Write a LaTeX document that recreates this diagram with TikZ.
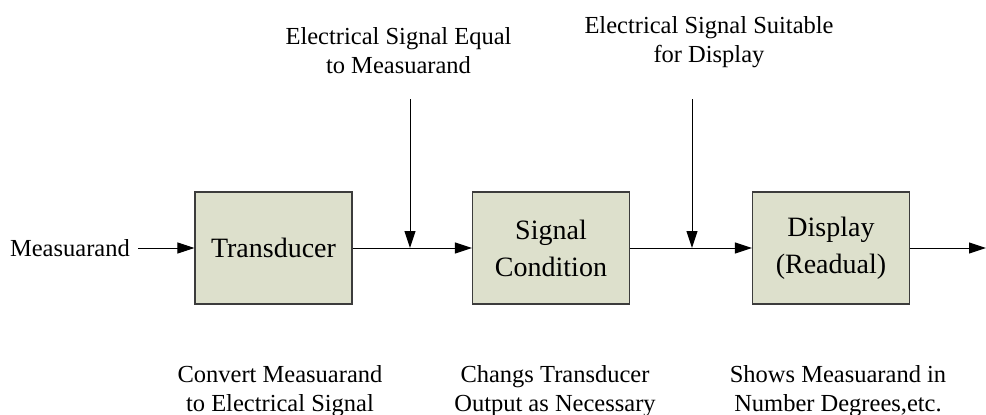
\documentclass[tikz,border=0pt]{standalone}
\usepackage{fontspec}
\setmainfont{Liberation Serif}
\usetikzlibrary{arrows.meta}
\definecolor{boxfill}{RGB}{221,224,204}
\definecolor{boxline}{RGB}{60,60,60}
\begin{document}
\begin{tikzpicture}[x=1pt,y=-1pt,
  block/.style={draw=boxline, line width=1.2pt, fill=boxfill, minimum width=157pt, minimum height=112pt, inner sep=0pt, align=center, font=\fontsize{28}{37}\selectfont},
  lbl/.style={align=center, inner sep=0pt, font=\fontsize{24.5}{29}\selectfont},
  arr/.style={draw=black, line width=1pt, -{Triangle[length=17pt,width=11pt]}}]
\useasboundingbox (0,0) rectangle (986,415);
\node[block] (t) at (273.5,248) {Transducer};
\node[block] (s) at (551,248) {Signal\\Condition};
\node[block] (d) at (831,248) {Display\\(Readual)};
\node[lbl, anchor=east, inner xsep=8pt] (m) at (138,248) {Measuarand};
\node[lbl] (l1) at (398.5,50.3) {Electrical Signal Equal\\to Measuarand};
\node[lbl] (l2) at (709,41.8) {Electrical Signal Suitable\\for Display};
\node[lbl] (b1) at (280,391) {Convert Measuarand\\to Electrical Signal};
\node[lbl] (b2) at (555,391) {Changs Transducer\\Output as Necessary};
\node[lbl] (b3) at (838,391) {Shows Measuarand in\\Number Degrees,etc.};
\coordinate (v1) at (410,99);
\coordinate (j1) at (410,248);
\coordinate (v2) at (692,99);
\coordinate (j2) at (692,248);
\coordinate (out) at (986,248);
\draw[arr] (m.east) -- (t.west);
\draw[arr] (t.east) -- (s.west);
\draw[arr] (s.east) -- (d.west);
\draw[arr] (d.east) -- (out);
\draw[arr] (v1) -- (j1);
\draw[arr] (v2) -- (j2);
\end{tikzpicture}
\end{document}
